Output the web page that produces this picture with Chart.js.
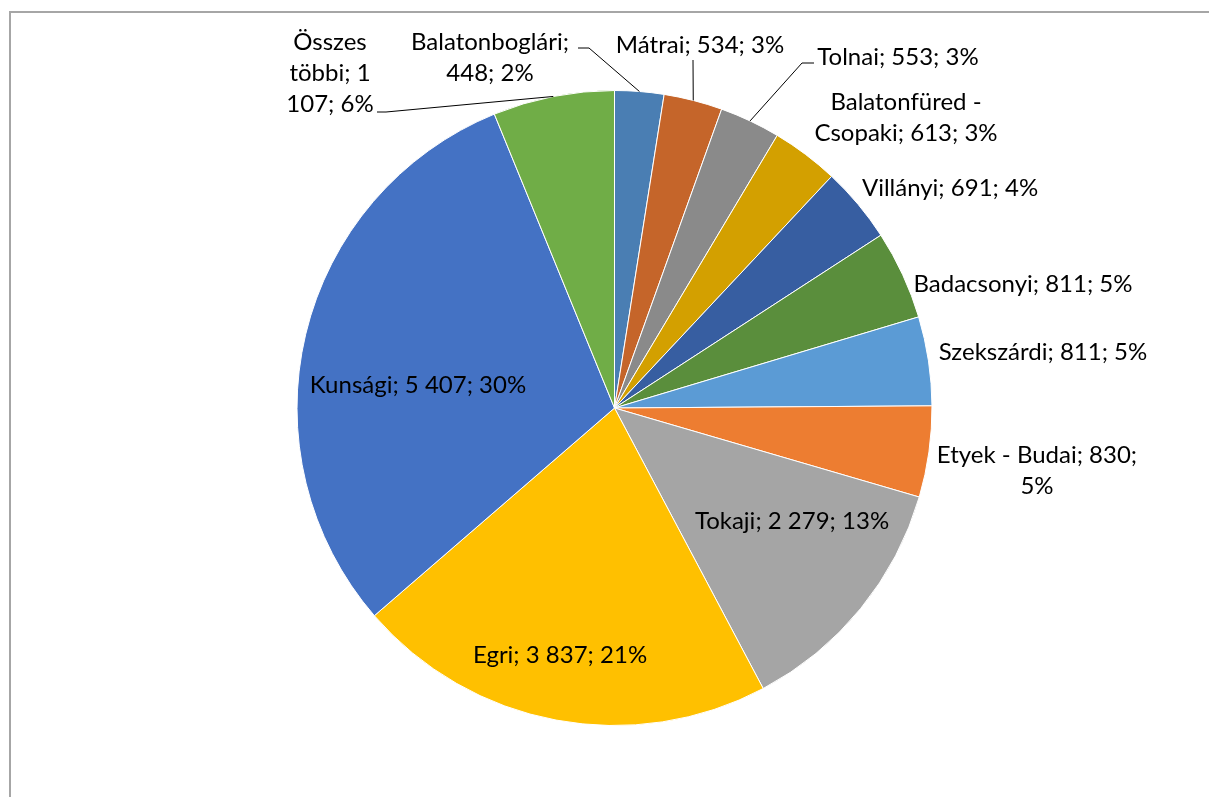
<!DOCTYPE html>
<html>
<head>
<meta charset="utf-8">
<script src="https://cdn.jsdelivr.net/npm/chart.js@4/dist/chart.umd.min.js"></script>
<style>
  html, body { margin: 0; padding: 0; background: #fff; }
  #wrap { width: 1209px; height: 797px; position: relative; }
</style>
</head>
<body>
<div id="wrap"><canvas id="chart" width="1209" height="797"></canvas></div>
<script>
// data, clockwise from 12 o'clock
const regions = ['Balatonboglári', 'Mátrai', 'Tolnai', 'Balatonfüred - Csopaki', 'Villányi',
  'Badacsonyi', 'Szekszárdi', 'Etyek - Budai', 'Tokaji', 'Egri', 'Kunsági', 'Összes többi'];
const values = [448, 534, 553, 613, 691, 811, 811, 830, 2279, 3837, 5407, 1107];
const colors = ['#4A7EB3', '#C5652A', '#8A8A8A', '#D3A000', '#375EA1', '#5A8E3C',
  '#5B9BD5', '#ED7D31', '#A5A5A5', '#FFC000', '#4472C4', '#70AD47'];

// label placement (text centre x, first line y, wrap width, optional leader start points)
const labelLayout = [
  { x: 490, y: 42, wrap: 175, leader: [[578, 48], [589, 48]] },
  { x: 700, y: 45, wrap: 300, leader: [[693, 60]] },
  { x: 898, y: 57, wrap: 300, leader: [[814, 63], [802, 63]] },
  { x: 906, y: 102, wrap: 200 },
  { x: 950, y: 188, wrap: 300 },
  { x: 1023, y: 284, wrap: 300 },
  { x: 1043, y: 352, wrap: 300 },
  { x: 1037, y: 455, wrap: 225 },
  { x: 792, y: 521, wrap: 300 },
  { x: 560, y: 655, wrap: 300 },
  { x: 418, y: 385, wrap: 300 },
  { x: 330, y: 42, wrap: 95, leader: [[377, 112], [386, 112]] }
];

const FONT = '24px Lato, "Open Sans", sans-serif';
const LINE_H = 31;
const total = values.reduce((a, b) => a + b, 0);

function fmt(v) {
  return String(v).replace(/\B(?=(\d{3})+(?!\d))/g, ' ');
}

function wrapText(ctx, text, maxW) {
  const words = text.split(' ');
  const lines = [];
  let cur = '';
  words.forEach(function(w) {
    const test = cur ? cur + ' ' + w : w;
    if (cur && ctx.measureText(test).width > maxW) {
      lines.push(cur);
      cur = w;
    } else {
      cur = test;
    }
  });
  if (cur) lines.push(cur);
  return lines;
}

const framePlugin = {
  id: 'frame',
  beforeDraw(chart) {
    const ctx = chart.ctx;
    ctx.save();
    ctx.strokeStyle = '#A6A6A6';
    ctx.lineWidth = 2;
    ctx.beginPath();
    ctx.moveTo(10, 800);
    ctx.lineTo(10, 12);
    ctx.lineTo(1212, 12);
    ctx.stroke();
    ctx.restore();
  }
};

const labelPlugin = {
  id: 'pieLabels',
  afterDatasetsDraw(chart) {
    const ctx = chart.ctx;
    const meta = chart.getDatasetMeta(0);
    ctx.save();
    ctx.font = FONT;
    ctx.fillStyle = '#000';
    ctx.textAlign = 'center';
    ctx.textBaseline = 'middle';
    meta.data.forEach(function(arc, i) {
      const lay = labelLayout[i];
      const pct = Math.round(values[i] / total * 100);
      const text = regions[i] + '; ' + fmt(values[i]) + '; ' + pct + '%';
      const lines = wrapText(ctx, text, lay.wrap);
      lines.forEach(function(line, j) {
        ctx.fillText(line, lay.x, lay.y + j * LINE_H);
      });
      if (lay.leader) {
        const p = arc.getProps(['x', 'y', 'startAngle', 'endAngle', 'outerRadius'], true);
        const mid = (p.startAngle + p.endAngle) / 2;
        const ex = p.x + Math.cos(mid) * p.outerRadius;
        const ey = p.y + Math.sin(mid) * p.outerRadius;
        ctx.strokeStyle = '#000';
        ctx.lineWidth = 1;
        ctx.beginPath();
        ctx.moveTo(lay.leader[0][0], lay.leader[0][1]);
        for (let k = 1; k < lay.leader.length; k++) {
          ctx.lineTo(lay.leader[k][0], lay.leader[k][1]);
        }
        ctx.lineTo(ex, ey);
        ctx.stroke();
      }
    });
    ctx.restore();
  }
};

new Chart(document.getElementById('chart'), {
  type: 'pie',
  data: {
    labels: regions,
    datasets: [{
      data: values,
      backgroundColor: colors,
      borderColor: '#ffffff',
      borderWidth: 1
    }]
  },
  options: {
    responsive: false,
    animation: false,
    layout: { padding: { top: 90, bottom: 71, left: 20, right: 0 } },
    plugins: {
      legend: { display: false },
      tooltip: { enabled: false }
    }
  },
  plugins: [framePlugin, labelPlugin]
});
</script>
</body>
</html>
